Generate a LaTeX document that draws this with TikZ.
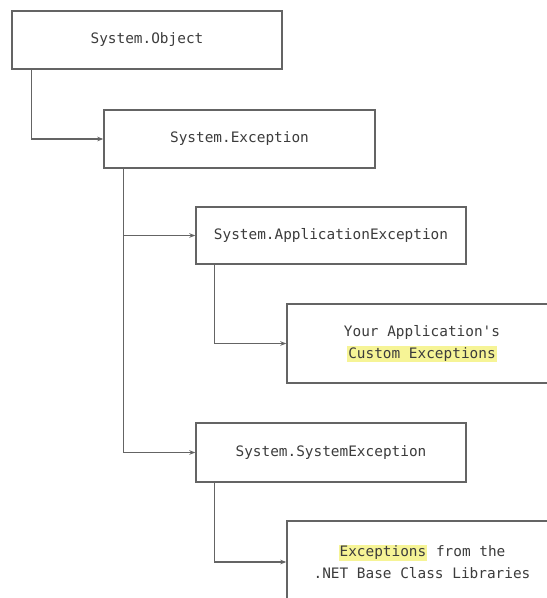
\documentclass[tikz,border=0pt]{standalone}
\usepackage{fontspec}
\setmonofont{DejaVu Sans Mono}
\usetikzlibrary{arrows.meta}
\definecolor{linegray}{RGB}{100,100,100}
\definecolor{textgray}{RGB}{60,60,60}
\definecolor{hilite}{RGB}{246,244,150}
\newcommand{\hl}[1]{{\setlength{\fboxsep}{1pt}\colorbox{hilite}{#1}}}
\begin{document}
\begin{tikzpicture}[x=1pt,y=-1pt,
	box/.style={draw=linegray, line width=1.4pt, fill=white, minimum width=270pt, inner sep=0pt, align=center, text=textgray, font=\ttfamily\fontsize{14.4}{22}\selectfont},
	arr/.style={draw=linegray, line width=1.3pt, -{Stealth[length=6pt,width=4.5pt]}}]
	\useasboundingbox (0,0) rectangle (547,598);
	\clip (0,0) rectangle (547,598);
	\fill[white] (0,0) rectangle (547,598);

	\node[box, minimum height=58pt] (obj) at (147,40) {System.Object};
	\node[box, minimum width=271pt, minimum height=58pt] (exc) at (239.5,139) {System.Exception};
	\node[box, minimum height=57pt] (app) at (331,235.5) {System.ApplicationException};
	\node[box, minimum height=79pt] (custom) at (422,343.5) {Your Application's\\\hl{Custom Exceptions}};
	\node[box, minimum height=59pt] (sys) at (331,452.5) {System.SystemException};
	\node[box, minimum height=82pt] (base) at (422,562) {\hl{Exceptions} from the\\.NET Base Class Libraries};

	\draw[arr] ([xshift=20pt]obj.south west) |- (exc.west);
	\foreach \to in {app,sys}
		\draw[arr] ([xshift=20pt]exc.south west) |- (\to.west);
	\draw[arr] ([xshift=19pt]app.south west) |- (custom.west);
	\draw[arr] ([xshift=19pt]sys.south west) |- (base.west);
\end{tikzpicture}
\end{document}
